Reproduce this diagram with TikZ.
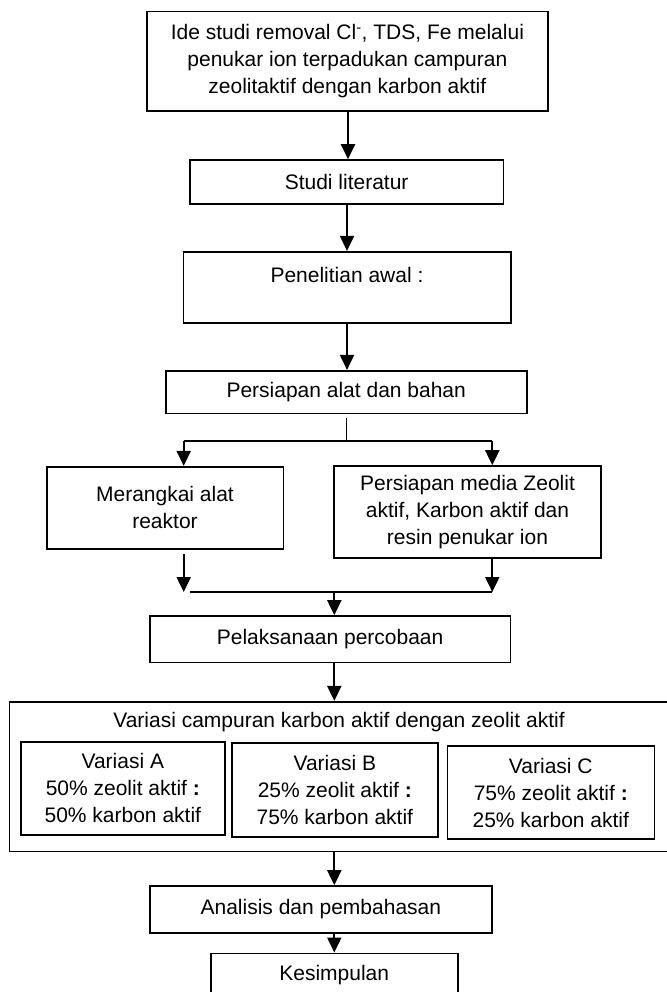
\documentclass[tikz,border=0pt]{standalone}
\usepackage{fontspec}
\setmainfont{Liberation Sans}
\usetikzlibrary{arrows.meta}
\begin{document}
\begin{tikzpicture}[x=1pt,y=-1pt,
  font=\fontsize{21pt}{27pt}\selectfont,
  box/.style={draw=black,line width=1.6pt,inner sep=0pt,align=center,fill=white},
  arr/.style={line width=2pt,-{Triangle[width=14pt,length=15pt]}},
  thinline/.style={line width=1.4pt}]
\useasboundingbox (0,0) rectangle (666,992);
\fill[white] (0,0) rectangle (666,992);
% boxes
\node[box,minimum width=401.3pt,minimum height=99.3pt] (b1) at (347.35,61.35)
  {\fontsize{21pt}{27.5pt}\selectfont Ide studi removal Cl\textsuperscript{-}, TDS, Fe melalui\\ penukar ion terpadukan campuran\\ zeolitaktif dengan karbon aktif};
\node[box,minimum width=313.3pt,minimum height=44pt] (b2) at (346.65,182) {Studi literatur};
\node[box,minimum width=327.4pt,minimum height=71pt] (b3) at (347,287.2) {};
\node[anchor=center] (b3t) at (347,275) {Penelitian awal :};
\node[box,minimum width=361pt,minimum height=42.6pt] (b4) at (346.2,392) {Persiapan alat dan bahan};
\node[box,minimum width=236.6pt,minimum height=82.3pt] (mer) at (165,507.85)
  {\fontsize{21pt}{29pt}\selectfont Merangkai alat\\ reaktor};
\node[box,minimum width=267pt,minimum height=91.7pt] (pers) at (467.5,511.85)
  {\fontsize{21pt}{24.5pt}\selectfont Persiapan media Zeolit\\ aktif, Karbon aktif dan\\ resin penukar ion};
\node[box,minimum width=360.3pt,minimum height=46.3pt] (pel) at (330.15,639.15) {Pelaksanaan percobaan};
\node[box,minimum width=662.7pt,minimum height=149.6pt] (var) at (340.65,776.5) {};
\node (vart) at (339,722) {Variasi campuran karbon aktif dengan zeolit aktif};
\node[box,minimum width=204.3pt,minimum height=93.3pt] (va) at (122.85,788.35)
  {\fontsize{21pt}{25pt}\selectfont Variasi A\\ 50\% zeolit aktif \textbf{:}\\ 50\% karbon aktif};
\node[box,minimum width=206.3pt,minimum height=94pt] (vb) at (334.85,789.7)
  {\fontsize{21pt}{25pt}\selectfont Variasi B\\ 25\% zeolit aktif \textbf{:}\\ 75\% karbon aktif};
\node[box,minimum width=207pt,minimum height=93pt] (vc) at (550.8,792.5)
  {\fontsize{21pt}{25pt}\selectfont Variasi C\\ 75\% zeolit aktif \textbf{:}\\ 25\% karbon aktif};
\node[box,minimum width=341.7pt,minimum height=46.7pt] (ana) at (320.85,909.35) {Analisis dan pembahasan};
\node[box,minimum width=247pt,minimum height=43.7pt] (kes) at (334.2,975.15) {Kesimpulan};
% connector coordinates
\coordinate (ax1) at (348,0);
\coordinate (ax2) at (347,0);
\coordinate (sp) at (346.7,441);
\coordinate (L) at (183.7,441);
\coordinate (R) at (492.3,441);
\coordinate (JL) at (190,592);
\coordinate (JR) at (492.3,592);
\coordinate (J) at (334.3,592);
% connectors
\draw[arr] (b1.south -| ax1) -- (b2.north -| ax1);
\draw[arr] (b2.south -| ax2) -- (b3.north -| ax2);
\draw[arr] (b3.south -| ax2) -- (b4.north -| ax2);
\draw[line width=1.3pt] ([yshift=-4pt]b4.south -| sp) -- (sp);
\draw[thinline] (L) -- (R);
\draw[arr] (L) -- (mer.north -| L);
\draw[arr] (R) -- (pers.north -| R);
\draw[arr] ([yshift=-4pt]mer.south -| L) -- (L |- JL);
\draw[arr] (pers.south -| R) -- (JR);
\draw[thinline] (JL) -- (JR);
\draw[arr] (J) -- (pel.north -| J);
\draw[arr] (pel.south -| J) -- (var.north -| J);
\draw[arr] (var.south -| J) -- (ana.north -| J);
\draw[arr] (ana.south -| J) -- (kes.north -| J);
\end{tikzpicture}
\end{document}
